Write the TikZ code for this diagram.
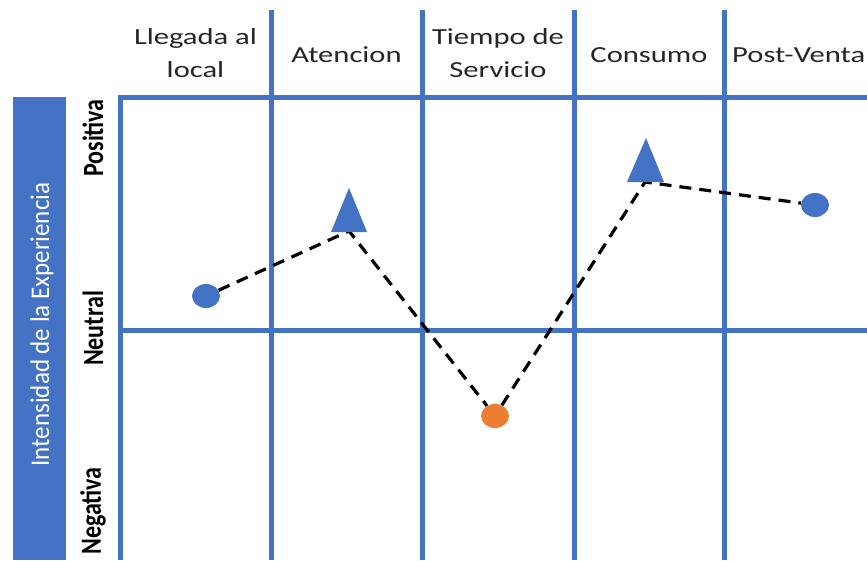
\documentclass[tikz,border=0pt]{standalone}
\usepackage{fontspec}
\usetikzlibrary{shapes.geometric}
\newfontfamily\calfont{Carlito}
\definecolor{gridblue}{HTML}{4472C4}
\definecolor{dotorange}{HTML}{ED7D31}
\newcommand{\hstr}[1]{\scalebox{1.33}[1]{#1}}
\newcommand{\vstr}[1]{\scalebox{1}[1.22]{#1}}
\begin{document}
\begin{tikzpicture}[x=1pt,y=-1pt,
  gridline/.style={draw=gridblue,line width=5pt},
  header/.style={font=\calfont\fontsize{23}{33}\selectfont,text=black!85,align=center,inner sep=0pt},
  levellabel/.style={font=\calfont\bfseries\fontsize{24}{28}\selectfont,text=black,rotate=90,inner sep=0pt},
  sidelabel/.style={font=\calfont\fontsize{25}{30}\selectfont,text=white,rotate=90,inner sep=0pt},
  dotmark/.style={ellipse,minimum width=28pt,minimum height=24pt,inner sep=0pt},
  trimark/.style={fill=gridblue},
  journey/.style={draw=black,line width=3.2pt,dash pattern=on 12pt off 8pt}]
\useasboundingbox (0,0) rectangle (867,560);
% side bar
\fill[gridblue] (13,97) rectangle (66,560);
\node[sidelabel] (side) at (42,324.5) {\scalebox{1}[1.08]{Intensidad de la Experiencia}};
% level labels
\node[levellabel] (pos) at (93,138) {\vstr{Positiva}};
\node[levellabel] (neu) at (93,328.5) {\vstr{Neutral}};
\node[levellabel] (neg) at (93,511) {\vstr{Negativa}};
% grid
\draw[gridline] (120,97.5) -- (867,97.5);
\draw[gridline] (120,330) -- (867,330);
\draw[gridline] (120,95) -- (120,560);
\foreach \gx in {271,422,574,724.5} \draw[gridline] (\gx,10) -- (\gx,560);
% headers
\node[header] (h1) at (195.5,53) {\hstr{Llegada al}\\\hstr{local}};
\node[header,anchor=base] (h2) at (346.5,62) {\hstr{Atencion}};
\node[header] (h3) at (498,53) {\hstr{Tiempo de}\\\hstr{Servicio}};
\node[header,anchor=base] (h4) at (649,62) {\hstr{Consumo}};
\node[header,anchor=base west] (h5) at (732,62) {\hstr{Post-Venta}};
% markers
\node[dotmark] (c1) at (206,296) {};
\coordinate (t1) at (349,231);
\node[dotmark] (c2) at (495,416) {};
\coordinate (t2) at (645,182);
\node[dotmark] (c3) at (815,205) {};
\draw[journey] (c1) -- (t1) -- (c2) -- (t2) -- (c3);
\fill[gridblue] (c1.center) ellipse[x radius=14pt,y radius=12pt];
\fill[dotorange] (c2.center) ellipse[x radius=14pt,y radius=12pt];
\fill[gridblue] (c3.center) ellipse[x radius=14pt,y radius=12pt];
\fill[trimark] (349,188) -- (367,232) -- (331,232) -- cycle;
\fill[trimark] (646,138) -- (664,182) -- (627,182) -- cycle;
\end{tikzpicture}
\end{document}
